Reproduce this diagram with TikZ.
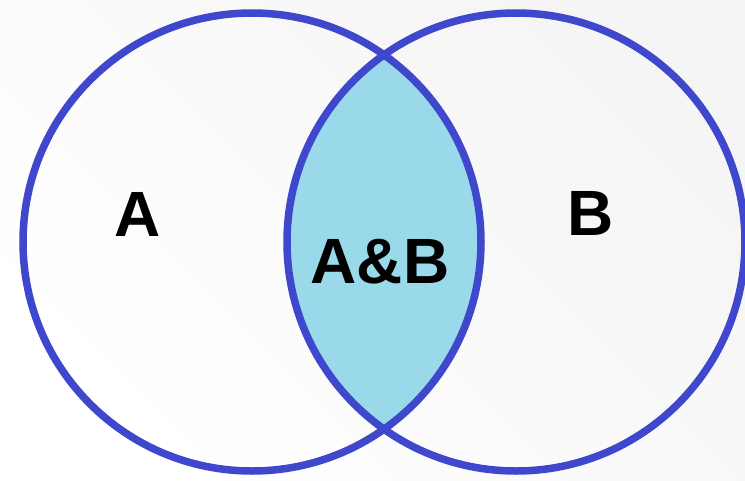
\documentclass[tikz,border=0pt]{standalone}
\usepackage{fontspec}
\setmainfont{Liberation Sans}
\definecolor{ringblue}{HTML}{3F48CC}
\definecolor{lensblue}{HTML}{99D9EA}
\begin{document}
\begin{tikzpicture}[
    x=1pt, y=-1pt,
    ring/.style={
        draw=ringblue, line width=7.5pt
    },
    setlabel/.style={
        inner sep=0pt,
        font=\bfseries\fontsize{64}{64}\selectfont
    },
]

% canvas 745 x 480, y grows downwards
\useasboundingbox (0,0) rectangle (745,480);
\shade[left color=white, right color=black!4, shading angle=135] (0,0) rectangle (745,480);

\coordinate (cA) at (252,242);
\coordinate (cB) at (516,242);

\begin{scope}
    \clip (cA) circle (229);
    \fill[lensblue] (cB) circle (229);
\end{scope}

\draw[ring] (cA) circle (229);
\draw[ring] (cB) circle (229);

\node [setlabel] (A)  at (138,214) {A};
\node [setlabel] (B)  at (591,213) {B};
\node [setlabel] (AB) at (380,262) {A\&B};

\end{tikzpicture}
\end{document}
